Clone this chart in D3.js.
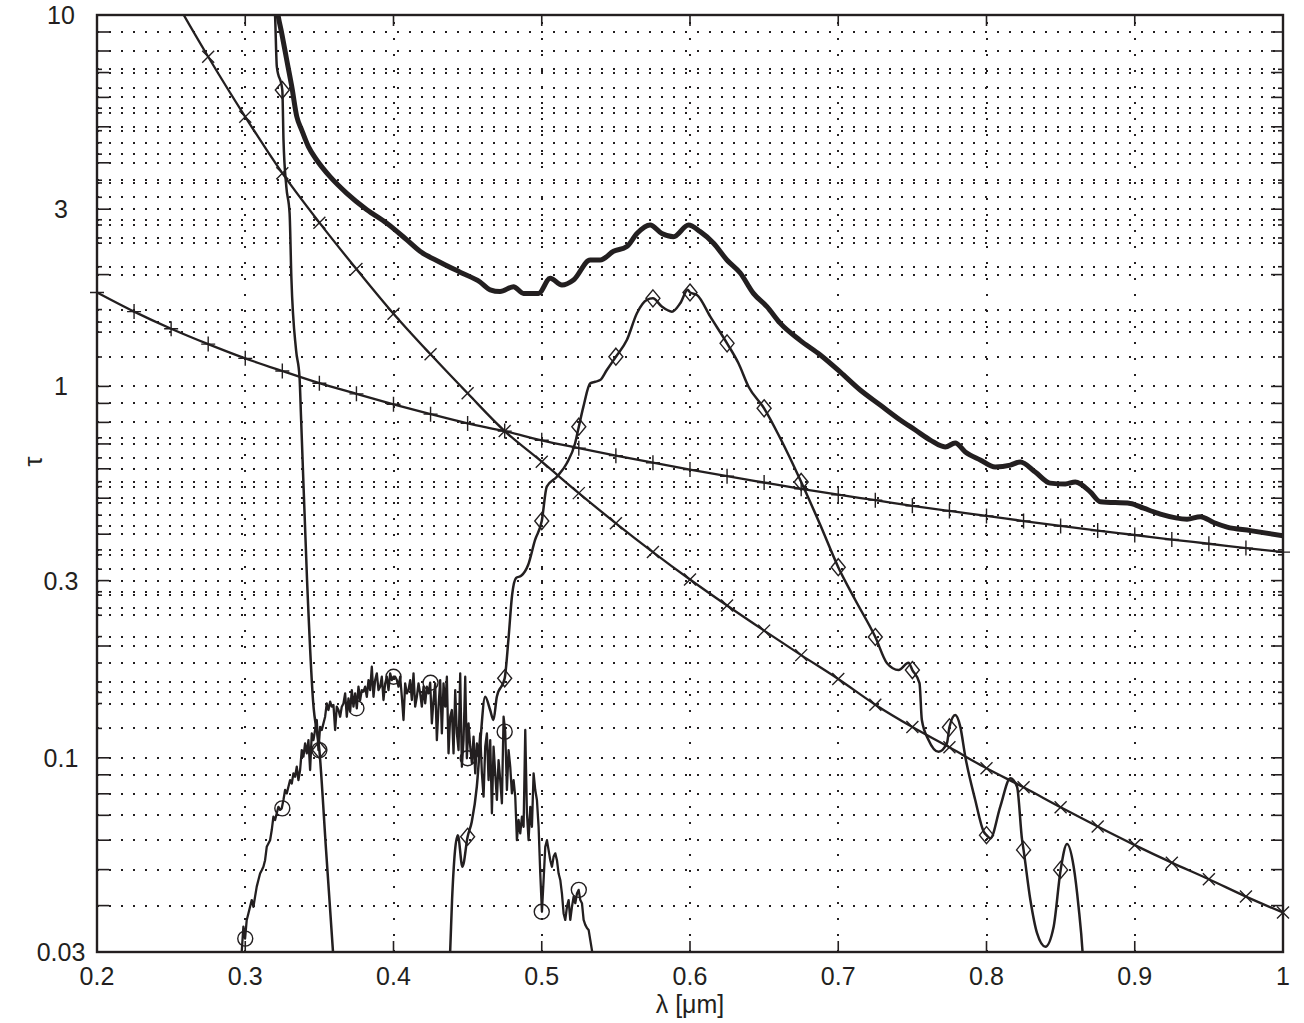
<!DOCTYPE html>
<html>
<head>
<meta charset="utf-8">
<script src="https://cdn.jsdelivr.net/npm/d3@7"></script>
<style>
  html, body { margin: 0; padding: 0; background: #fff; }
  svg { display: block; }
  text { font-family: "Liberation Sans", Arial, Helvetica, sans-serif; fill: #231f20; }
</style>
</head>
<body>
<svg id="chart" width="1304" height="1023"></svg>
<script>
// ---------- axis ticks ----------
const xTicks = [0.2, 0.3, 0.4, 0.5, 0.6, 0.7, 0.8, 0.9, 1];
const xTickLabels = ["0.2", "0.3", "0.4", "0.5", "0.6", "0.7", "0.8", "0.9", "1"];
const yTicks = [0.03, 0.1, 0.3, 1, 3, 10];
const yTickLabels = ["0.03", "0.1", "0.3", "1", "3", "10"];
// log-decade grid rows (long ticks)
const yGridMain = [0.04, 0.05, 0.06, 0.07, 0.08, 0.09, 0.1, 0.2, 0.3, 0.4, 0.5, 0.6, 0.7, 0.8, 0.9,
                   1, 2, 3, 4, 5, 6, 7, 8, 9];
// secondary grid rows (short ticks)
const yGridExtra = [7.14, 6.35, 5.61, 5.45, 4.88, 4.53, 4.22, 3.59, 3.53, 3.23, 2.81, 2.72, 2.51, 2.43,
                    2.10, 1.61, 1.49, 1.40, 1.20, 0.727, 0.642, 0.554, 0.537, 0.486, 0.450, 0.421,
                    0.363, 0.352, 0.322, 0.280, 0.274, 0.253, 0.242, 0.212, 0.180, 0.160, 0.150,
                    0.140, 0.120];

// ---------- series with "+" markers ----------
const plusLambda = [0.2, 0.225, 0.25, 0.275, 0.3, 0.325, 0.35, 0.375, 0.4, 0.425, 0.45, 0.475, 0.5,
                    0.525, 0.55, 0.575, 0.6, 0.625, 0.65, 0.675, 0.7, 0.725, 0.75, 0.775, 0.8, 0.825,
                    0.85, 0.875, 0.9, 0.925, 0.95, 0.975, 1.0];
const plusTau = [1.79, 1.59, 1.43, 1.30, 1.19, 1.10, 1.02, 0.955, 0.895, 0.842, 0.795, 0.758, 0.716,
                 0.682, 0.651, 0.623, 0.597, 0.573, 0.551, 0.530, 0.511, 0.494, 0.477, 0.462, 0.448,
                 0.434, 0.421, 0.409, 0.398, 0.387, 0.377, 0.367, 0.358];

// ---------- series with "x" markers ----------
const crossLambda = plusLambda;
const crossTau = [25, 17.9, 11.5, 7.72, 5.32, 3.75, 2.76, 2.07, 1.57, 1.22, 0.958, 0.758, 0.627,
                  0.516, 0.428, 0.358, 0.302, 0.257, 0.220, 0.189, 0.163, 0.139, 0.121, 0.1067,
                  0.0937, 0.0833, 0.0736, 0.0653, 0.0582, 0.0522, 0.0471, 0.0423, 0.0383];

// ---------- series with diamond markers ----------
const diamondLambda = [0.3195, 0.3201, 0.3213, 0.325, 0.3258, 0.3277, 0.3299, 0.3311, 0.3343, 0.3366,
  0.3377, 0.3417, 0.3457, 0.35, 0.3545, 0.3592, 0.362, 0.435, 0.4382, 0.4395,
  0.4434, 0.4465, 0.45, 0.4528, 0.4562, 0.4584, 0.4618, 0.4652, 0.4674, 0.4697,
  0.475, 0.4775, 0.48, 0.4827, 0.4861, 0.4908, 0.4955, 0.5, 0.5034, 0.5102,
  0.5169, 0.5225, 0.525, 0.5281, 0.5327, 0.536, 0.5394, 0.5439, 0.55, 0.5574,
  0.5642, 0.5709, 0.575, 0.581, 0.5878, 0.5934, 0.5985, 0.6, 0.6047, 0.6137,
  0.625, 0.6327, 0.6395, 0.65, 0.6609, 0.675, 0.6879, 0.7, 0.7115, 0.725,
  0.7329, 0.7407, 0.7474, 0.75, 0.7548, 0.7564, 0.7609, 0.7677, 0.7733, 0.775,
  0.7789, 0.7823, 0.7857, 0.7924, 0.7981, 0.8, 0.8026, 0.8093, 0.8161, 0.8206,
  0.824, 0.825, 0.8296, 0.8341, 0.8397, 0.8453, 0.85, 0.8543, 0.8588, 0.8621,
  0.8648, 0.867];
const diamondTau = [11, 10, 7.26, 6.28, 4.61, 3.45, 2.93, 1.97, 1.25, 1.06,
  0.812, 0.30, 0.143, 0.105, 0.0565, 0.030, 0.02, 0.02, 0.03, 0.0414,
  0.0619, 0.0509, 0.0613, 0.0673, 0.0836, 0.1083, 0.146, 0.1345, 0.1264, 0.146,
  0.1637, 0.2076, 0.2744, 0.305, 0.309, 0.3305, 0.386, 0.434, 0.537, 0.571,
  0.621, 0.703, 0.779, 0.882, 1.019, 1.029, 1.040, 1.107, 1.202, 1.333,
  1.574, 1.709, 1.726, 1.64, 1.589, 1.674, 1.82, 1.79, 1.763, 1.541,
  1.306, 1.154, 0.998, 0.873, 0.725, 0.553, 0.4234, 0.326, 0.266, 0.2115,
  0.1797, 0.1723, 0.1804, 0.1723, 0.1589, 0.1264, 0.1117, 0.1038, 0.1094, 0.1208,
  0.1303, 0.1213, 0.1007, 0.077, 0.0633, 0.0619, 0.0607, 0.0739, 0.0881, 0.0836,
  0.0601, 0.0565, 0.0414, 0.0337, 0.031, 0.0351, 0.0499, 0.0586, 0.0509, 0.0397,
  0.030, 0.02];
const diamondMarkLambda = [0.325, 0.35, 0.45, 0.475, 0.5, 0.525, 0.55, 0.575, 0.6, 0.625, 0.65,
                           0.675, 0.7, 0.725, 0.75, 0.775, 0.8, 0.825, 0.85];
const diamondMarkTau = [6.28, 0.105, 0.0613, 0.1637, 0.434, 0.779, 1.202, 1.726, 1.79, 1.306, 0.873,
                        0.553, 0.326, 0.2115, 0.1723, 0.1208, 0.0619, 0.0565, 0.0499];

// ---------- noisy series with circle markers (evenly sampled in lambda) ----------
const circleLambdaStart = 0.2965;
const circleLambdaStep = 0.001125;
const circleTau = [
  0.028, 0.0301, 0.0351, 0.0326, 0.0366, 0.0381, 0.0397, 0.0414, 0.0397, 0.0423,
  0.0450, 0.0469, 0.0488, 0.0498, 0.0509, 0.0530, 0.0576, 0.0588, 0.0600, 0.0639,
  0.0694, 0.0680, 0.0709, 0.0738, 0.0724, 0.0731, 0.0770, 0.0819, 0.0802, 0.0836,
  0.0871, 0.0853, 0.0908, 0.0889, 0.0946, 0.0871, 0.0927, 0.1049, 0.1007, 0.1093,
  0.1028, 0.1116, 0.0927, 0.1163, 0.1116, 0.1188, 0.1264, 0.1049, 0.1212, 0.1188,
  0.1238, 0.1290, 0.1401, 0.1345, 0.1416, 0.1373, 0.1387, 0.1188, 0.1373, 0.1345,
  0.1290, 0.1373, 0.1401, 0.1491, 0.1290, 0.1445, 0.1331, 0.1522, 0.1373, 0.1491,
  0.1359, 0.1554, 0.1431, 0.1522, 0.1507, 0.1554, 0.1460, 0.1619, 0.1522, 0.1759,
  0.1460, 0.1619, 0.1688, 0.1522, 0.1554, 0.1653, 0.1431, 0.1586, 0.1653, 0.1522,
  0.1688, 0.1619, 0.1653, 0.1653, 0.1619, 0.1554, 0.1653, 0.1460, 0.1264, 0.1586,
  0.1491, 0.1522, 0.1619, 0.1431, 0.1688, 0.1373, 0.1460, 0.1586, 0.1491, 0.1373,
  0.1554, 0.1401, 0.1554, 0.1491, 0.1593, 0.1238, 0.1431, 0.1586, 0.1116, 0.1373,
  0.1619, 0.1163, 0.1586, 0.1373, 0.1653, 0.1028, 0.1290, 0.1345, 0.1028, 0.1522,
  0.1163, 0.1049, 0.1688, 0.0946, 0.1116, 0.1653, 0.0997, 0.1238, 0.1071, 0.0966,
  0.1140, 0.0908, 0.1093, 0.1007, 0.1163, 0.0908, 0.0786, 0.1071, 0.1163, 0.0871,
  0.1116, 0.0709, 0.1071, 0.0908, 0.0770, 0.0986, 0.0871, 0.0754, 0.1290, 0.1176,
  0.0819, 0.1049, 0.0946, 0.0802, 0.0871, 0.0786, 0.0600, 0.0680, 0.0626, 0.0694,
  0.0652, 0.1188, 0.0709, 0.0600, 0.0738, 0.0652, 0.0908, 0.0819, 0.0770, 0.0652,
  0.0488, 0.0385, 0.0469, 0.0576, 0.0600, 0.0564, 0.0530, 0.0509, 0.0542, 0.0553,
  0.0530, 0.0488, 0.0469, 0.0431, 0.0381, 0.0366, 0.0397, 0.0414, 0.0366, 0.0397,
  0.0423, 0.0406, 0.0431, 0.0441, 0.0414, 0.0406, 0.0366, 0.0355, 0.0348, 0.0344,
  0.0323, 0.0303, 0.0286];
const circleMarkLambda = [0.3, 0.325, 0.35, 0.375, 0.4, 0.425, 0.45, 0.475, 0.5, 0.525];
const circleMarkTau = [0.0326, 0.0731, 0.1049, 0.1359, 0.1653, 0.1593, 0.0997, 0.1176, 0.0385, 0.0441];

// ---------- thick unmarked series ----------
const thickLambda = [0.3205, 0.3223, 0.3246, 0.328, 0.3314, 0.3348, 0.3381, 0.3426, 0.3482, 0.3572,
  0.3685, 0.382, 0.3955, 0.409, 0.4179, 0.4314, 0.4449, 0.4584, 0.4652, 0.4719,
  0.4809, 0.4877, 0.4978, 0.5057, 0.5136, 0.5214, 0.5327, 0.5394, 0.5484, 0.5574,
  0.5642, 0.5731, 0.581, 0.5889, 0.599, 0.6069, 0.6159, 0.6249, 0.6339, 0.6428,
  0.6519, 0.6608, 0.6743, 0.6879, 0.7014, 0.7148, 0.7283, 0.7418, 0.752, 0.7621,
  0.7722, 0.7789, 0.7857, 0.7958, 0.8059, 0.8161, 0.8228, 0.8329, 0.843, 0.8532,
  0.8599, 0.870, 0.8768, 0.897, 0.906, 0.9173, 0.9353, 0.9443, 0.9532, 0.9623,
  0.978, 1.0];
const thickTau = [11, 9.9, 8.93, 7.56, 6.41, 5.32, 4.90, 4.42, 4.07, 3.67,
  3.31, 2.99, 2.75, 2.48, 2.31, 2.16, 2.03, 1.91, 1.82, 1.80,
  1.855, 1.78, 1.78, 1.955, 1.875, 1.934, 2.19, 2.19, 2.31, 2.38,
  2.58, 2.72, 2.58, 2.53, 2.72, 2.61, 2.43, 2.19, 2.02, 1.78,
  1.64, 1.48, 1.33, 1.215, 1.093, 0.978, 0.891, 0.812, 0.763, 0.717,
  0.687, 0.704, 0.666, 0.634, 0.607, 0.614, 0.626, 0.588, 0.549, 0.546,
  0.553, 0.520, 0.489, 0.484, 0.470, 0.453, 0.439, 0.446, 0.430, 0.418,
  0.409, 0.396];

// ---------- layout ----------
const W = 1304, H = 1023;
const margin = { left: 97, right: 21, top: 15, bottom: 71 };
const INK = "#231f20";

const x = d3.scaleLinear().domain([0.2, 1]).range([margin.left, W - margin.right]);
const y = d3.scaleLog().domain([0.03, 10]).range([H - margin.bottom, margin.top]);
const [x0, x1] = x.range();
const [y0, y1] = y.range(); // y0 bottom, y1 top

const svg = d3.select("#chart");

svg.append("defs").append("clipPath").attr("id", "plot-clip")
  .append("rect").attr("x", x0).attr("y", y1).attr("width", x1 - x0).attr("height", y0 - y1);

// ---------- dotted grid ----------
const grid = svg.append("g")
  .attr("stroke", INK)
  .attr("stroke-width", 2)
  .attr("fill", "none")
  .attr("shape-rendering", "crispEdges");
grid.selectAll("line.h")
  .data(yGridMain.concat(yGridExtra))
  .join("line")
  .attr("class", "h")
  .attr("x1", x0).attr("x2", x1)
  .attr("y1", d => Math.round(y(d))).attr("y2", d => Math.round(y(d)))
  .attr("stroke-dasharray", "2,10");
grid.selectAll("line.v")
  .data(xTicks.slice(1, -1))
  .join("line")
  .attr("class", "v")
  .attr("x1", d => Math.round(x(d))).attr("x2", d => Math.round(x(d)))
  .attr("y1", y0).attr("y2", y1)
  .attr("stroke-dasharray", "2,14");

// ---------- curves ----------
const plot = svg.append("g").attr("clip-path", "url(#plot-clip)");
const line = d3.line().x(d => x(d[0])).y(d => y(d[1]));

function drawCurve(lambdas, taus, width, curve) {
  plot.append("path")
    .datum(d3.zip(lambdas, taus))
    .attr("fill", "none")
    .attr("stroke", INK)
    .attr("stroke-width", width)
    .attr("stroke-linejoin", "round")
    .attr("stroke-linecap", "round")
    .attr("d", line.curve(curve));
}

const circleLambda = circleTau.map((_, i) => circleLambdaStart + i * circleLambdaStep);

drawCurve(plusLambda, plusTau, 2.3, d3.curveMonotoneX);
drawCurve(crossLambda, crossTau, 2.3, d3.curveMonotoneX);
drawCurve(diamondLambda, diamondTau, 2.5, d3.curveMonotoneX);
drawCurve(circleLambda, circleTau, 2.3, d3.curveLinear);
drawCurve(thickLambda, thickTau, 5, d3.curveMonotoneX);

// ---------- markers ----------
const symbols = {
  plus: "M-7,0H7M0,-7.5V7.5",
  cross: "M-6,-6L6,6M-6,6L6,-6",
  diamond: "M0,-8.5L7,0L0,8.5L-7,0Z",
  circle: "M7.5,0A7.5,7.5 0 1,1 -7.5,0A7.5,7.5 0 1,1 7.5,0Z"
};
const [tauMin, tauMax] = y.domain();
function drawMarkers(lambdas, taus, shape) {
  svg.append("g")
    .selectAll("path")
    .data(d3.zip(lambdas, taus).filter(d => d[1] >= tauMin * 0.999 && d[1] <= tauMax))
    .join("path")
    .attr("transform", d => `translate(${x(d[0])},${y(d[1])})`)
    .attr("d", symbols[shape])
    .attr("fill", "none")
    .attr("stroke", INK)
    .attr("stroke-width", 1.4);
}
drawMarkers(plusLambda, plusTau, "plus");
drawMarkers(crossLambda, crossTau, "cross");
drawMarkers(diamondMarkLambda, diamondMarkTau, "diamond");
drawMarkers(circleMarkLambda, circleMarkTau, "circle");

// ---------- frame and ticks ----------
const axes = svg.append("g").attr("stroke", INK).attr("fill", "none");
axes.append("rect")
  .attr("x", x0).attr("y", y1).attr("width", x1 - x0).attr("height", y0 - y1)
  .attr("stroke-width", 2.4);

const ticks = axes.append("g").attr("stroke-width", 1.6);
xTicks.forEach(v => {
  ticks.append("line").attr("x1", x(v)).attr("x2", x(v)).attr("y1", y0).attr("y2", y0 - 11);
  ticks.append("line").attr("x1", x(v)).attr("x2", x(v)).attr("y1", y1).attr("y2", y1 + 11);
});
yGridMain.forEach(v => {
  ticks.append("line").attr("x1", x0).attr("x2", x0 + 12).attr("y1", y(v)).attr("y2", y(v));
  ticks.append("line").attr("x1", x1).attr("x2", x1 - 12).attr("y1", y(v)).attr("y2", y(v));
});
yGridExtra.forEach(v => {
  ticks.append("line").attr("x1", x0).attr("x2", x0 + 5).attr("y1", y(v)).attr("y2", y(v));
  ticks.append("line").attr("x1", x1).attr("x2", x1 - 5).attr("y1", y(v)).attr("y2", y(v));
});

// ---------- tick labels ----------
const labels = svg.append("g").attr("font-size", 25);
labels.selectAll("text.x")
  .data(xTicks)
  .join("text")
  .attr("class", "x")
  .attr("x", d => x(d))
  .attr("y", y0 + 33)
  .attr("text-anchor", "middle")
  .text((d, i) => xTickLabels[i]);
labels.selectAll("text.y")
  .data(yTicks)
  .join("text")
  .attr("class", "y")
  .attr("x", 61)
  .attr("y", d => y(d))
  .attr("dy", "0.36em")
  .attr("text-anchor", "middle")
  .text((d, i) => yTickLabels[i]);

// ---------- axis titles ----------
svg.append("text")
  .attr("x", (x0 + x1) / 2)
  .attr("y", 1013)
  .attr("text-anchor", "middle")
  .attr("font-size", 25)
  .text("λ [μm]");
svg.append("text")
  .attr("transform", `translate(42,${(y0 + y1) / 2 - 22}) rotate(-90)`)
  .attr("text-anchor", "middle")
  .attr("font-size", 25)
  .text("τ");
</script>
</body>
</html>
